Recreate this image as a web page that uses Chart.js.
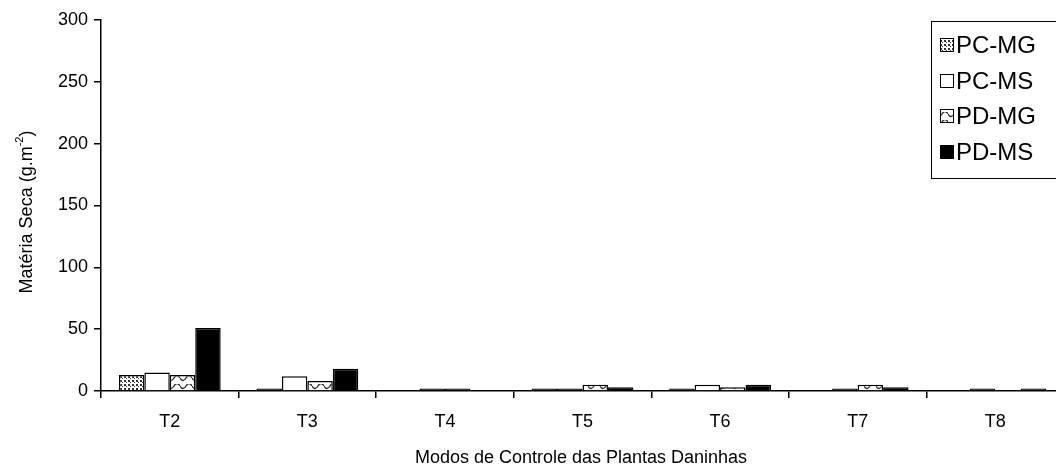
<!DOCTYPE html>
<html>
<head>
<meta charset="utf-8">
<script src="https://cdn.jsdelivr.net/npm/chart.js@4"></script>
<style>
  html, body { margin: 0; padding: 0; background: #fff; overflow: hidden; }
  #wrap { width: 1072px; height: 472px; position: relative; }
</style>
</head>
<body>
<div id="wrap"><canvas id="chart"></canvas></div>
<script>
// data
const categories = ["T2", "T3", "T4", "T5", "T6", "T7", "T8"];
const seriesNames = ["PC-MG", "PC-MS", "PD-MG", "PD-MS"];
const pcMg = [13, 2, 0, 2, 2, 0, 0];
const pcMs = [15, 12, 2, 2, 5, 2, 2];
const pdMg = [13, 8, 2, 5, 3, 5, 0];
const pdMs = [51, 18, 0, 3, 5, 3, 2];
const yTicks = [0, 50, 100, 150, 200, 250, 300];

const FONT = "'Liberation Sans', Arial, sans-serif";

// fill patterns
function dotPattern() {
  const c = document.createElement("canvas");
  c.width = 4; c.height = 4;
  const g = c.getContext("2d");
  g.fillStyle = "#fff";
  g.fillRect(0, 0, 4, 4);
  g.fillStyle = "#333";
  g.fillRect(0, 0, 2, 2);
  g.fillRect(2, 2, 1, 1);
  return g.createPattern(c, "repeat");
}

function wavePattern() {
  const c = document.createElement("canvas");
  c.width = 12; c.height = 8;
  const g = c.getContext("2d");
  g.fillStyle = "#fff";
  g.fillRect(0, 0, 12, 8);
  g.strokeStyle = "#222";
  g.lineWidth = 1.3;
  g.beginPath();
  g.moveTo(0, 2);
  g.quadraticCurveTo(3, 7, 6, 2);
  g.quadraticCurveTo(9, -3, 12, 2);
  g.stroke();
  return g.createPattern(c, "repeat");
}

const fills = [dotPattern(), "#fff", wavePattern(), "#000"];
const values = [pcMg, pcMs, pdMg, pdMs];

// legend and axis titles drawn by hand
const decorPlugin = {
  id: "decor",
  afterDraw(chart) {
    const ctx = chart.ctx;
    ctx.save();

    // legend box
    ctx.strokeStyle = "#000";
    ctx.lineWidth = 1;
    ctx.fillStyle = "#fff";
    ctx.fillRect(931.5, 21.5, 150, 157);
    ctx.strokeRect(931.5, 21.5, 150, 157);
    ctx.font = "24px " + FONT;
    ctx.textBaseline = "middle";
    const rowY = [45, 81, 116, 152];
    seriesNames.forEach((name, i) => {
      const y = rowY[i];
      ctx.fillStyle = fills[i];
      ctx.fillRect(940, y - 7, 14, 14);
      ctx.strokeStyle = "#000";
      ctx.strokeRect(940.5, y - 6.5, 13, 13);
      ctx.fillStyle = "#000";
      ctx.textAlign = "left";
      ctx.fillText(name, 956, y + 1);
    });

    // x title
    ctx.font = "18px " + FONT;
    ctx.textAlign = "center";
    ctx.fillStyle = "#000";
    ctx.fillText("Modos de Controle das Plantas Daninhas", 581, 458);

    // y title with superscript
    ctx.translate(27, 212);
    ctx.rotate(-Math.PI / 2);
    const main = "Matéria Seca (g.m";
    const sup = "-2";
    const end = ")";
    ctx.font = "18px " + FONT;
    const w1 = ctx.measureText(main).width;
    const w3 = ctx.measureText(end).width;
    ctx.font = "11px " + FONT;
    const w2 = ctx.measureText(sup).width;
    let x = -(w1 + w2 + w3) / 2;
    ctx.textAlign = "left";
    ctx.font = "18px " + FONT;
    ctx.fillText(main, x, 0);
    x += w1;
    ctx.font = "11px " + FONT;
    ctx.fillText(sup, x, -7);
    x += w2;
    ctx.font = "18px " + FONT;
    ctx.fillText(end, x, 0);

    ctx.restore();
  }
};

new Chart(document.getElementById("chart"), {
  type: "bar",
  data: {
    labels: categories,
    datasets: seriesNames.map((name, i) => ({
      label: name,
      data: values[i],
      // very short bars show up as solid black strokes in the original
      backgroundColor: c => (c.raw !== undefined && c.raw <= 2 ? "#000" : fills[i]),
      borderColor: "#000",
      borderWidth: 1.5,
      barPercentage: 1,
      categoryPercentage: 0.74
    }))
  },
  options: {
    responsive: true,
    maintainAspectRatio: false,
    animation: false,
    layout: { padding: { left: 0, right: 8, top: 20, bottom: 0 } },
    plugins: { legend: { display: false }, tooltip: { enabled: false } },
    scales: {
      x: {
        afterFit: s => { s.height = 81; },
        grid: { display: true, drawOnChartArea: false, drawTicks: true, tickLength: 7, color: "#000", lineWidth: 1.5 },
        border: { color: "#000", width: 1.5 },
        ticks: { color: "#000", font: { family: FONT, size: 18 }, padding: 13, maxRotation: 0 }
      },
      y: {
        min: 0,
        max: 300,
        afterFit: s => { s.width = 101; },
        afterBuildTicks: s => { s.ticks = yTicks.map(v => ({ value: v })); },
        grid: { display: true, drawOnChartArea: false, drawTicks: true, tickLength: 7, color: "#000", lineWidth: 1.5 },
        border: { color: "#000", width: 1.5 },
        ticks: { color: "#000", font: { family: FONT, size: 18 }, padding: 6 }
      }
    }
  },
  plugins: [decorPlugin]
});
</script>
</body>
</html>
